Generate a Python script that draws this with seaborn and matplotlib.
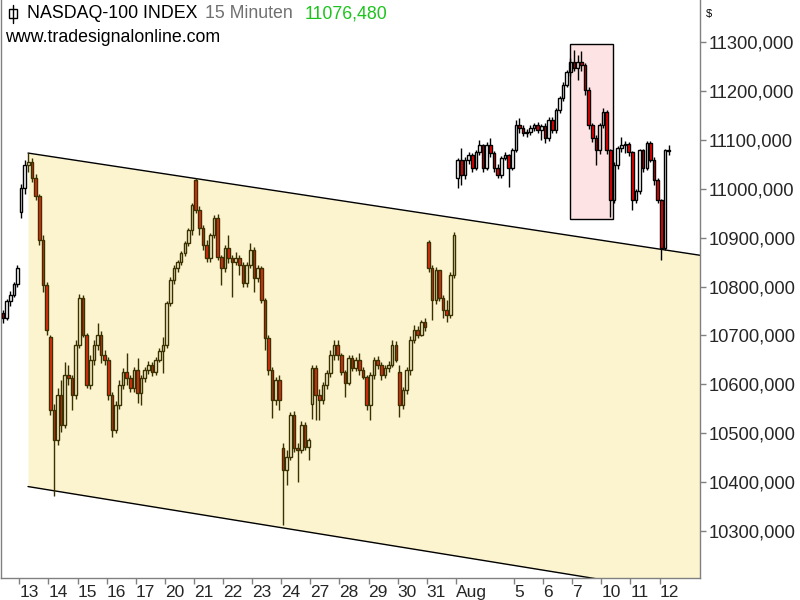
import numpy as np
import matplotlib
matplotlib.use("Agg")
import matplotlib.pyplot as plt
import matplotlib.lines as mlines
import matplotlib.patches as mpatches
import seaborn as sns

# ---- data (15 min candles, thinned to 8 per session) ----
# day 0 = Jul 10, day 1 = Jul 13 ... day 23 = Aug 12
day_bar_counts = [5] + [8] * 22 + [3]
day_first_slot = [3] + [0] * 23
slots_per_day = 8

opens = [
    10745, 10735, 10770, 10782, 10805,                              # Jul 10
    10952, 11001, 11049, 11055, 11022, 10985, 10895, 10803,         # Jul 13
    10697, 10548, 10486, 10578, 10517, 10619, 10613, 10578,         # Jul 14
    10680, 10777, 10700, 10599, 10650, 10680, 10701, 10660,         # Jul 15
    10650, 10578, 10507, 10558, 10599, 10625, 10613, 10593,         # Jul 16
    10629, 10582, 10613, 10629, 10640, 10625, 10650, 10668,         # Jul 17
    10680, 10766, 10813, 10838, 10850, 10869, 10889, 10916,         # Jul 20
    11018, 10957, 10920, 10885, 10858, 10905, 10940, 10860,         # Jul 21
    10838, 10879, 10858, 10850, 10858, 10844, 10807, 10844,         # Jul 22
    10875, 10817, 10838, 10772, 10695, 10629, 10568, 10609,         # Jul 23
    10470, 10425, 10452, 10537, 10470, 10466, 10517, 10472,         # Jul 24
    10560, 10633, 10578, 10568, 10599, 10623, 10660, 10680,         # Jul 27
    10660, 10625, 10603, 10654, 10633, 10650, 10629, 10615,         # Jul 28
    10558, 10619, 10650, 10640, 10619, 10633, 10640, 10680,         # Jul 29
    10625, 10558, 10588, 10629, 10691, 10711, 10701, 10728,         # Jul 30
    10891, 10838, 10772, 10834, 10777, 10752, 10742, 10824,         # Jul 31
    11022, 11059, 11028, 11059, 11069, 11042, 11075, 11089,         # Aug 3
    11042, 11089, 11073, 11042, 11028, 11063, 11069, 11042,         # Aug 4
    11079, 11130, 11124, 11114, 11116, 11124, 11130, 11120,         # Aug 5
    11128, 11104, 11141, 11120, 11161, 11186, 11212, 11239,         # Aug 6
    11259, 11247, 11259, 11253, 11202, 11130, 11104, 11079,         # Aug 7
    11130, 11157, 11079, 10977, 11049, 11083, 11089, 11092,         # Aug 10
    11075, 10977, 10995, 11079, 11042, 11094, 11059, 11018,         # Aug 11
    10977, 10879, 11079,                                            # Aug 12
]
highs = [
    10752, 10775, 10790, 10810, 10845,
    11010, 11059, 11073, 11062, 11030, 10990, 10905, 10810,
    10700, 10560, 10593, 10609, 10646, 10640, 10620, 10691,
    10785, 10782, 10705, 10660, 10691, 10726, 10710, 10670,
    10655, 10585, 10565, 10609, 10633, 10664, 10620, 10635,
    10654, 10620, 10635, 10648, 10645, 10655, 10675, 10697,
    10770, 10820, 10844, 10854, 10873, 10893, 10920, 10971,
    11022, 10965, 10926, 10895, 10910, 10946, 10948, 10865,
    10885, 10905, 10865, 10871, 10865, 10850, 10850, 10889,
    10880, 10845, 10842, 10776, 10700, 10635, 10615, 10620,
    10480, 10466, 10543, 10545, 10480, 10525, 10523, 10490,
    10640, 10640, 10590, 10605, 10630, 10670, 10691, 10690,
    10665, 10630, 10660, 10660, 10655, 10664, 10635, 10620,
    10625, 10655, 10658, 10645, 10640, 10648, 10691, 10688,
    10640, 10595, 10635, 10698, 10721, 10720, 10732, 10735,
    10895, 10845, 10840, 10834, 10782, 10772, 10830, 10912,
    11063, 11083, 11065, 11075, 11073, 11080, 11100, 11092,
    11095, 11104, 11078, 11050, 11068, 11075, 11072, 11083,
    11141, 11145, 11130, 11122, 11130, 11135, 11136, 11132,
    11134, 11147, 11146, 11165, 11190, 11218, 11243, 11267,
    11284, 11274, 11282, 11258, 11208, 11135, 11110, 11135,
    11165, 11162, 11082, 11055, 11088, 11106, 11098, 11095,
    11078, 11000, 11082, 11082, 11098, 11098, 11065, 11022,
    10980, 11082, 11089,
]
lows = [
    10725, 10732, 10760, 10778, 10800,
    10940, 10990, 11035, 11014, 10977, 10885, 10789, 10701,
    10537, 10372, 10476, 10503, 10510, 10599, 10548, 10570,
    10675, 10697, 10593, 10590, 10640, 10670, 10644, 10640,
    10568, 10492, 10500, 10550, 10590, 10599, 10584, 10585,
    10562, 10558, 10605, 10622, 10618, 10620, 10645, 10623,
    10675, 10760, 10805, 10830, 10845, 10862, 10882, 10905,
    10950, 10905, 10875, 10850, 10850, 10900, 10855, 10803,
    10830, 10848, 10779, 10845, 10824, 10799, 10800, 10838,
    10789, 10810, 10766, 10670, 10619, 10531, 10558, 10548,
    10312, 10394, 10445, 10462, 10400, 10460, 10465, 10445,
    10530, 10527, 10527, 10560, 10590, 10615, 10650, 10650,
    10620, 10574, 10598, 10628, 10628, 10620, 10610, 10548,
    10527, 10610, 10632, 10609, 10612, 10625, 10635, 10645,
    10533, 10550, 10580, 10620, 10685, 10695, 10698, 10710,
    10830, 10732, 10765, 10770, 10736, 10728, 10735, 10818,
    11001, 11008, 11020, 11050, 11035, 11038, 11070, 11034,
    11038, 11065, 11035, 11022, 11022, 11058, 11003, 11038,
    11075, 11115, 11108, 11106, 11110, 11118, 11115, 11100,
    11094, 11098, 11115, 11115, 11155, 11180, 11208, 11230,
    11240, 11222, 11240, 11192, 11122, 11096, 11049, 11072,
    11125, 11072, 10942, 10970, 11040, 11075, 11073, 11068,
    10957, 10970, 10990, 11035, 11038, 11055, 11008, 10970,
    10854, 10875, 11070,
]
closes = [
    10735, 10770, 10782, 10805, 10838,
    11001, 11049, 11055, 11022, 10985, 10895, 10803, 10711,
    10548, 10486, 10578, 10517, 10619, 10613, 10578, 10680,
    10777, 10700, 10599, 10650, 10680, 10701, 10660, 10650,
    10578, 10507, 10558, 10599, 10625, 10613, 10593, 10629,
    10582, 10613, 10629, 10640, 10625, 10650, 10668, 10680,
    10766, 10813, 10838, 10850, 10869, 10889, 10916, 10967,
    10957, 10920, 10885, 10858, 10905, 10940, 10860, 10838,
    10879, 10858, 10850, 10858, 10844, 10807, 10844, 10875,
    10817, 10838, 10772, 10695, 10629, 10568, 10609, 10568,
    10425, 10452, 10537, 10470, 10466, 10517, 10472, 10486,
    10633, 10578, 10568, 10599, 10623, 10660, 10680, 10660,
    10625, 10603, 10654, 10633, 10650, 10629, 10615, 10558,
    10619, 10650, 10640, 10619, 10633, 10640, 10680, 10650,
    10558, 10588, 10629, 10691, 10711, 10701, 10728, 10717,
    10838, 10772, 10834, 10777, 10752, 10742, 10824, 10905,
    11059, 11028, 11059, 11069, 11042, 11075, 11089, 11042,
    11089, 11073, 11042, 11028, 11063, 11069, 11042, 11079,
    11130, 11124, 11114, 11116, 11124, 11130, 11120, 11128,
    11104, 11141, 11120, 11161, 11186, 11212, 11239, 11259,
    11247, 11259, 11253, 11202, 11130, 11104, 11079, 11130,
    11157, 11079, 10977, 11049, 11083, 11089, 11092, 11075,
    10977, 10995, 11079, 11042, 11094, 11059, 11018, 10977,
    10879, 11079, 11076.48,
]

# x axis: one tick per session start (no tick for Aug 4)
tick_days = [1, 2, 3, 4, 5, 6, 7, 8, 9, 10, 11, 12, 13, 14, 15, 16, 18, 19, 20, 21, 22, 23]
tick_labels = ["13", "14", "15", "16", "17", "20", "21", "22", "23", "24", "27", "28",
               "29", "30", "31", "Aug", "5", "6", "7", "10", "11", "12"]
y_ticks = [10300, 10400, 10500, 10600, 10700, 10800, 10900, 11000, 11100, 11200, 11300]

# trend channel and marked box
channel_x = [1.30, 24.39]
channel_upper = [11073, 10864]
channel_lower = [10391, 10168]
box_x = [19.92, 21.40]
box_y = [10938, 11296]

# ---- build candle positions ----
xs = []
for d, (n, s0) in enumerate(zip(day_bar_counts, day_first_slot)):
    for s in range(s0, s0 + n):
        xs.append(d + (s + 0.5) / slots_per_day)
xs = np.array(xs)
o = np.array(opens, float)
h = np.array(highs, float)
l = np.array(lows, float)
c = np.array(closes, float)

sns.set_theme(style="white")
plt.rcParams["font.family"] = ["Liberation Sans", "DejaVu Sans"]

fig = plt.figure(figsize=(8, 6), dpi=100)
ax = fig.add_axes([1 / 800, 22 / 600, 699 / 800, 578 / 600])

# channel fill + lines
ax.fill_between(channel_x, channel_lower, channel_upper, color="#fcf4cf", lw=0, zorder=0)
sns.lineplot(x=channel_x, y=channel_upper, color="black", lw=1, ax=ax, zorder=1)
sns.lineplot(x=channel_x, y=channel_lower, color="black", lw=1, ax=ax, zorder=1)
ax.add_patch(mpatches.Rectangle((box_x[0], box_y[0]), box_x[1] - box_x[0], box_y[1] - box_y[0],
                                facecolor="#fde3e3", edgecolor="black", lw=1, zorder=0.5))

# candle colours depend on the background they sit on
up_slope = (channel_upper[1] - channel_upper[0]) / (channel_x[1] - channel_x[0])
lo_slope = (channel_lower[1] - channel_lower[0]) / (channel_x[1] - channel_x[0])
up_line = channel_upper[0] + up_slope * (xs - channel_x[0])
lo_line = channel_lower[0] + lo_slope * (xs - channel_x[0])
mid = (o + c) / 2
inside = (xs >= channel_x[0]) & (mid <= up_line) & (mid >= lo_line)
edge = np.where(inside, "#3a3000", "black")
down = c < o
face = np.where(down, np.where(inside, "#ee2a10", "#ff0000"), "none")

body_top = np.maximum(o, c)
body_bot = np.minimum(o, c)
w = 0.72 / slots_per_day
ax.vlines(xs, body_top, h, colors=edge, lw=1, zorder=2)
ax.vlines(xs, l, body_bot, colors=edge, lw=1, zorder=2)
ax.bar(xs, body_top - body_bot, bottom=body_bot, width=w, color=face,
       edgecolor=edge, linewidth=1, zorder=3)

ax.set_xlim(0.371, 24.39)
ax.set_ylim(10204, 11386)

# axes styling
for side in ["left", "right", "bottom"]:
    ax.spines[side].set_color("#808080")
    ax.spines[side].set_linewidth(1)
ax.spines["top"].set_visible(False)

ax.set_xticks(tick_days)
ax.set_xticklabels(tick_labels, fontsize=12.5)
for lab in ax.get_xticklabels():
    lab.set_ha("left")
ax.tick_params(axis="x", direction="out", length=4, width=1, color="#808080", pad=1,
               bottom=True)
ax.yaxis.tick_right()
ax.set_yticks(y_ticks)
ax.set_yticklabels([f"{v},000" for v in y_ticks], fontsize=13.2)
ax.tick_params(axis="y", direction="out", length=4, width=1, color="#808080", pad=2,
               right=True, left=False)
ax.grid(False)

# header texts
def fy(py):
    return 1 - py / 600

fig.text(27 / 800, fy(14), "NASDAQ-100 INDEX", fontsize=12.8, color="black", va="center")
fig.text(205 / 800, fy(14), "15 Minuten", fontsize=12.8, color="#707070", va="center")
fig.text(305 / 800, fy(14), "11076,480", fontsize=12.8, color="#1ec31e", va="center")
fig.text(5 / 800, fy(38), "www.tradesignalonline.com", fontsize=12.8, color="black", va="center")
fig.text(706 / 800, fy(14), "$", fontsize=8, color="black", va="center")

# small candle icon next to the title
fig.add_artist(mlines.Line2D([13 / 800, 13 / 800], [fy(5), fy(23)], color="black", lw=1))
fig.add_artist(mpatches.Rectangle((9 / 800, fy(18)), 8 / 800, 9 / 600, transform=fig.transFigure,
                                  facecolor="white", edgecolor="black", lw=1))

fig.savefig("out.png", dpi=100)
